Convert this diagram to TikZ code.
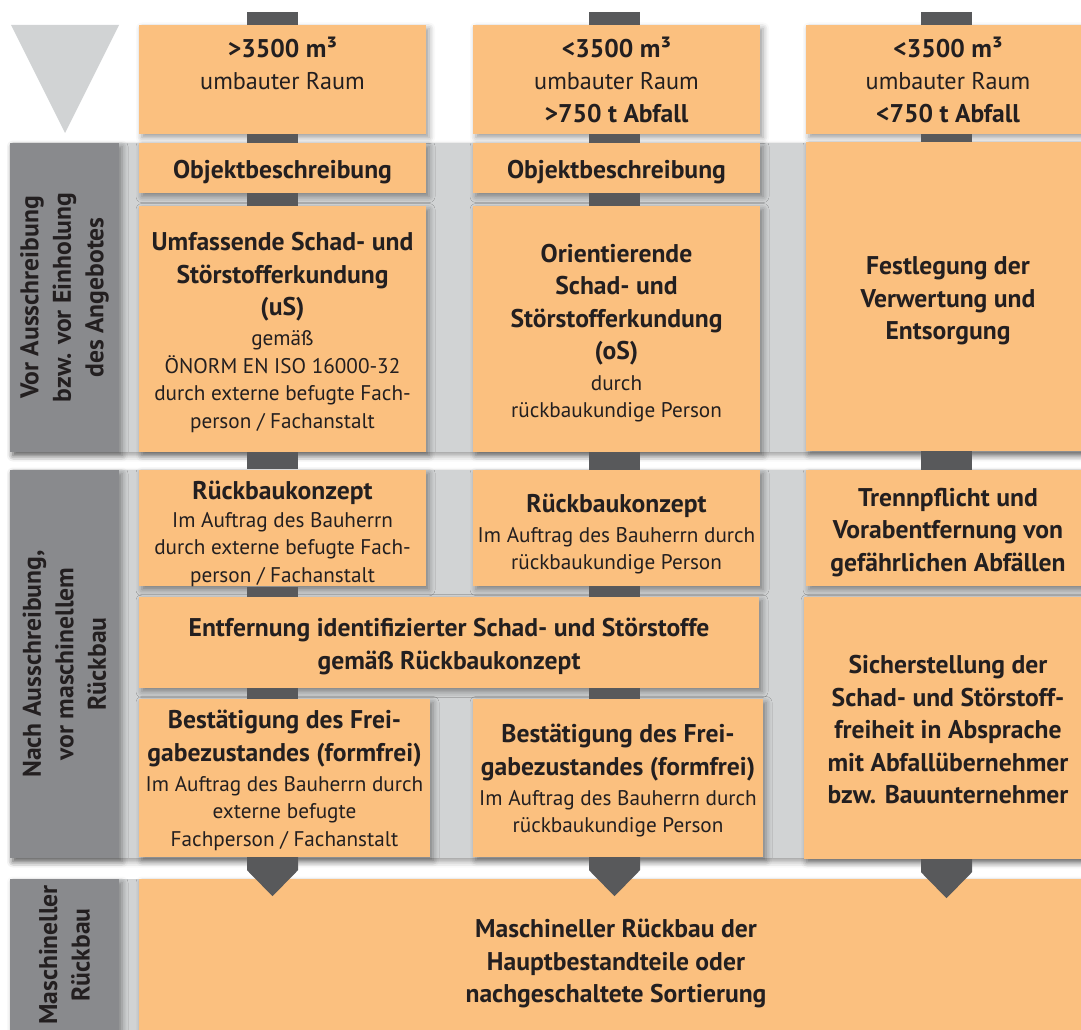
\documentclass[tikz,border=0pt]{standalone}
\usepackage{fontspec}
\setmainfont{PT Sans}
\usetikzlibrary{calc,shadows.blur}

\definecolor{boxorange}{RGB}{251,192,127}
\definecolor{bandgray}{RGB}{209,211,212}
\definecolor{labelgray}{RGB}{137,138,141}
\definecolor{bardark}{RGB}{88,89,91}
\definecolor{inkdark}{RGB}{35,31,32}

\newcommand\BoxHead{\fontsize{25.6}{32.5}\selectfont\bfseries}
\newcommand\BoxTop{\fontsize{24.2}{32.5}\selectfont\mdseries}
\newcommand\BoxDesc{\fontsize{21.2}{27.5}\selectfont\mdseries}
% invisible strut that sets the height of a box's first line
\newcommand\FirstLine[1]{\rule{0pt}{#1}}

\begin{document}
\begin{tikzpicture}[x=1pt,y=-1pt,
  softshadow/.style={blur shadow={shadow xshift=3pt,shadow yshift=-3.5pt,
      shadow blur radius=6pt,shadow opacity=40}},
  box/.style={fill=boxorange,inner sep=0pt,align=center,text=inkdark,softshadow},
  headbox/.style={box,font=\BoxHead},
  descbox/.style={box,font=\BoxDesc},
  labtext/.style={align=center,text=inkdark,font=\BoxHead,inner sep=0pt},
  bar/.style={draw=bardark,line width=51pt},
  arrowhead/.style={fill=bardark}]

\useasboundingbox (0,0) rectangle (1081,1030);

% funnel mark in the corner
\fill[bandgray] (11,25) -- (119,25) -- (65,133) -- cycle;

% phase bands with their side labels
\fill[bandgray,softshadow] (10,143) rectangle (1095,452);
\fill[bandgray,softshadow] (10,470) rectangle (1095,858);
\fill[bandgray] (10,879) rectangle (1095,1040);
\fill[labelgray,softshadow] (10,143) rectangle (119,452);
\fill[labelgray,softshadow] (10,470) rectangle (119,858);
\fill[labelgray,softshadow] (10,879) rectangle (119,1040);

\node[labtext,rotate=90] (lab1) at (64.5,297.5)
  {Vor Ausschreibung\\bzw. vor Einholung\\des Angebotes};
\node[labtext,rotate=90] (lab2) at (64.5,664)
  {Nach Ausschreibung,\\vor maschinellem\\Rückbau};
\node[labtext,rotate=90] (lab3) at (64.5,955)
  {Maschineller\\Rückbau};

% column axes for the connecting bars
\coordinate (bx1) at (272.5,0);
\coordinate (bx2) at (614.5,0);
\coordinate (bx3) at (946.5,0);
\coordinate (stub1) at (272.5,12);
\coordinate (stub2) at (614.5,12);
\coordinate (stub3) at (946.5,12);

% boxes
\path
  (282.5,79.5) node[headbox,minimum width=287pt,minimum height=109pt] (top1)
    {\BoxHead >3500 m³\\\BoxTop umbauter Raum\\\BoxHead\phantom{A}}
  (616.5,79.5) node[headbox,minimum width=287pt,minimum height=109pt] (top2)
    {\BoxHead <3500 m³\\\BoxTop umbauter Raum\\\BoxHead >750 t Abfall}
  (948,79.5) node[headbox,minimum width=284pt,minimum height=109pt] (top3)
    {\BoxHead <3500 m³\\\BoxTop umbauter Raum\\\BoxHead <750 t Abfall};

\path
  (282.5,168) node[headbox,minimum width=287pt,minimum height=50pt] (obj1)
    {\FirstLine{26.5pt}Objektbeschreibung}
  (616.5,168) node[headbox,minimum width=287pt,minimum height=50pt] (obj2)
    {\FirstLine{26.5pt}Objektbeschreibung}
  (282.5,329) node[descbox,minimum width=287pt,minimum height=246pt] (us1)
    {\BoxHead\FirstLine{25.5pt}Umfassende Schad- und\\[5pt]\BoxHead Störstofferkundung\\[5pt]
     \BoxHead (uS)\\[2.5pt]\BoxDesc gemäß\\\BoxDesc ÖNORM EN ISO 16000-32\\
     \BoxDesc durch externe befugte Fach-\\\BoxDesc person / Fachanstalt}
  (616.5,329) node[descbox,minimum width=287pt,minimum height=246pt] (os2)
    {\BoxHead\FirstLine{26.5pt}Orientierende\\[5pt]\BoxHead Schad- und\\[5pt]
     \BoxHead Störstofferkundung\\[5pt]\BoxHead (oS)\\[3pt]
     \BoxDesc durch\\\BoxDesc rückbaukundige Person}
  (948,296.5) node[headbox,minimum width=284pt,minimum height=309pt] (fest3)
    {\FirstLine{26.5pt}Festlegung der\\Verwertung und\\Entsorgung}
  (282.5,528) node[descbox,minimum width=287pt,minimum height=116pt] (rk1)
    {\BoxHead\FirstLine{30pt}Rückbaukonzept\\\BoxDesc Im Auftrag des Bauherrn\\
     \BoxDesc durch externe befugte Fach-\\\BoxDesc person / Fachanstalt}
  (616.5,528) node[descbox,minimum width=287pt,minimum height=116pt] (rk2)
    {\BoxHead\FirstLine{30pt}Rückbaukonzept\\[2.5pt]\BoxDesc Im Auftrag des Bauherrn durch\\
     \BoxDesc rückbaukundige Person}
  (948,528) node[headbox,minimum width=284pt,minimum height=116pt] (tr3)
    {\FirstLine{27pt}Trennpflicht und\\Vorabentfernung von\\gefährlichen Abfällen}
  (449,642.5) node[headbox,minimum width=620pt,minimum height=91pt] (ent)
    {\FirstLine{26.5pt}Entfernung identifizierter Schad- und Störstoffe\\gemäß Rückbaukonzept}
  (284.5,778) node[descbox,minimum width=291pt,minimum height=158pt] (be1)
    {\BoxHead\FirstLine{23.7pt}Bestätigung des Frei-\\[5pt]\BoxHead gabezustandes (formfrei)\\[2.5pt]
     \BoxDesc Im Auftrag des Bauherrn durch\\\BoxDesc externe befugte\\
     \BoxDesc Fachperson / Fachanstalt}
  (618,778) node[descbox,minimum width=290pt,minimum height=158pt] (be2)
    {\BoxHead\FirstLine{23.7pt}Bestätigung des Frei-\\[5pt]\BoxHead gabezustandes (formfrei)\\[2.5pt]
     \BoxDesc Im Auftrag des Bauherrn durch\\\BoxDesc rückbaukundige Person}
  (948,728) node[headbox,minimum width=288pt,minimum height=262pt] (si3)
    {\FirstLine{21.5pt}Sicherstellung der\\Schad- und Störstoff-\\freiheit in Absprache\\
     mit Abfallübernehmer\\bzw. Bauunternehmer}
  (616,959.5) node[headbox,minimum width=954pt,minimum height=161pt] (mr)
    {\FirstLine{27.3pt}Maschineller Rückbau der\\Hauptbestandteile oder\\nachgeschaltete Sortierung};

% bars filling the gaps between the boxes of each column
\draw[bar] (stub1) -- (top1.north -| bx1);
\draw[bar] (stub2) -- (top2.north -| bx2);
\draw[bar] (stub3) -- (top3.north -| bx3);
\draw[bar] (top1.south -| bx1) -- (obj1.north -| bx1);
\draw[bar] (top2.south -| bx2) -- (obj2.north -| bx2);
\draw[bar] (top3.south -| bx3) -- (fest3.north -| bx3);
\draw[bar] (obj1.south -| bx1) -- (us1.north -| bx1);
\draw[bar] (obj2.south -| bx2) -- (os2.north -| bx2);
\draw[bar] (us1.south -| bx1) -- (rk1.north -| bx1);
\draw[bar] (os2.south -| bx2) -- (rk2.north -| bx2);
\draw[bar] (fest3.south -| bx3) -- (tr3.north -| bx3);
\draw[bar] (rk1.south -| bx1) -- (ent.north -| bx1);
\draw[bar] (rk2.south -| bx2) -- (ent.north -| bx2);
\draw[bar] (ent.south -| bx1) -- (be1.north -| bx1);
\draw[bar] (ent.south -| bx2) -- (be2.north -| bx2);

% arrows leading into the final phase
\foreach \src/\ax in {be1/bx1,be2/bx2,si3/bx3}
  \fill[arrowhead] ($(\src.south -| \ax)+(-25.5,0)$) -- ++(51,0) -- ++(0,13)
    -- ++(-25.5,26) -- ++(-25.5,-26) -- cycle;

\end{tikzpicture}
\end{document}
